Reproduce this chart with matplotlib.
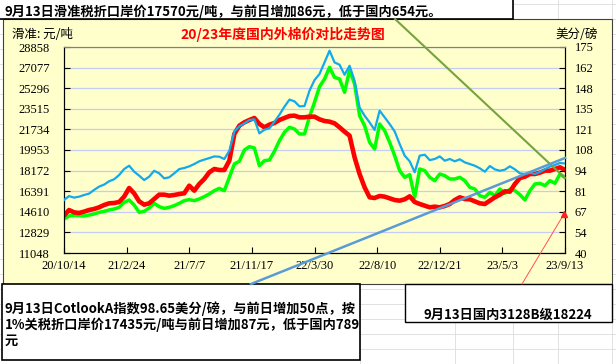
import matplotlib
matplotlib.use('Agg')
import matplotlib.pyplot as plt
from matplotlib.lines import Line2D
from matplotlib.patches import Rectangle
import pandas as pd

plt.rcParams['font.family'] = ['Noto Sans CJK SC', 'DejaVu Sans']

# domestic 3128B (yuan/ton, left axis)
domestic = [14276, 14766, 14564, 14506, 14622, 14766, 14852, 14996, 15198, 15342,
            15371, 15457, 15919, 16668, 16207, 15515, 15227, 15342, 15717, 16092,
            16092, 16005, 16063, 16149, 16207, 16870,
            16437, 17014, 17446, 18022, 18311, 18224, 18224, 19031, 21337, 22057,
            22345, 22547, 22720, 22201, 21913, 22144, 22288, 22547, 22720, 22893,
            22922, 22778, 22778, 22835,
            22835, 22605, 22461, 22403, 22259, 21913, 21538, 21193, 19319, 17878,
            16726, 15861, 15803, 15976, 15919, 15774, 15630, 15573, 15688, 15947,
            15457, 15285, 15140, 14996, 15054,
            14996, 15112, 15285, 15630, 15861, 15717, 15688, 15515, 15342, 15285,
            15573, 15861, 16092, 16380, 16351, 17014, 17533, 17648, 17878, 17878,
            17994, 18167, 18167, 18311, 18455, 18224]

# import price at sliding-scale duty (yuan/ton, left axis)
sliding = [13988, 14247, 14305, 14276, 14247, 14333, 14420, 14564, 14651, 14766,
           14852, 14996, 15429, 15630, 15198, 14564, 14651, 14939, 15342, 15054,
           14910, 14996, 15140, 15342, 15573, 15659,
           15573, 15717, 15919, 16149, 16437, 16639, 16437, 17590, 18743, 18974,
           19953, 20242, 20126, 18599, 19031, 19089, 19838, 20760, 21481, 21913,
           21769, 21337, 21337, 22835,
           24075, 25429, 26092, 27101, 26236, 26092, 24939, 26870, 25660, 22922,
           22057, 20616, 20040, 22201, 21625, 20616, 19463, 18167, 17590, 17821,
           15861, 18311, 18167, 17590, 17302,
           17878, 17734, 17446, 17446, 17590, 17302, 16726, 16581, 16005, 15861,
           16293, 16005, 16581, 16207, 16553, 16437, 16092, 15630, 16437, 17014,
           17071, 16870, 17302, 17071, 17878, 17570]

# Cotlook A index (US cents/lb, right axis)
cotlook = [74.7, 77.3, 76.3, 76.9, 78.0, 78.9, 81.3, 83.5, 84.8, 87.0,
           88.3, 91.1, 95.0, 97.2, 93.3, 90.7, 87.8, 90.0, 93.9, 92.2,
           88.9, 89.6, 92.2, 95.0, 95.7, 96.8,
           98.3, 100.1, 101.2, 102.2, 103.3, 103.1, 101.6, 107.0, 119.7, 123.0,
           125.0, 127.1, 127.6, 118.4, 120.8, 121.7, 126.0, 130.6, 135.9, 140.5,
           139.4, 136.1, 136.3, 146.4,
           153.3, 157.3, 164.9, 172.6, 164.9, 163.4, 156.8, 162.7, 152.9, 135.4,
           130.0, 125.6, 120.6, 133.3, 128.9, 124.5, 119.7, 111.4, 103.8, 100.1,
           92.9, 103.8, 104.4, 100.9, 101.6,
           103.3, 100.5, 101.6, 100.1, 101.4, 99.4, 98.3, 97.2, 95.5, 93.3,
           97.0, 94.8, 93.9, 94.6, 96.8, 94.8, 92.2, 91.8, 92.6, 91.8,
           93.1, 95.0, 96.6, 97.7, 99.0, 98.65]

dates = pd.date_range('2020-10-14', '2023-09-13', periods=len(domestic))

tick_dates = pd.to_datetime(['2020-10-14', '2021-02-24', '2021-07-07', '2021-11-17',
                             '2022-03-30', '2022-08-10', '2022-12-21', '2023-05-03',
                             '2023-09-13'])
tick_labels = ['20/10/14', '21/2/24', '21/7/7', '21/11/17', '22/3/30',
               '22/8/10', '22/12/21', '23/5/3', '23/9/13']
left_ticks = [11048, 12829, 14610, 16391, 18172, 19953, 21734, 23515, 25296, 27077, 28858]
right_ticks = [40, 53.5, 67, 80.5, 94, 107.5, 121, 134.5, 148, 161.5, 175]
right_labels = ['40', '54', '67', '81', '94', '108', '121', '135', '148', '162', '175']

W, H = 616, 364
fig = plt.figure(figsize=(W / 100, H / 100), dpi=100)
fig.patch.set_facecolor('white')


def fx(px):
    return px / W


def fy(py):
    return 1 - py / H


def box(x0, y0, x1, y1, face, lw=1.0, edge='black'):
    fig.add_artist(Rectangle((fx(x0), fy(y1)), fx(x1) - fx(x0), fy(y0) - fy(y1),
                             transform=fig.transFigure, facecolor=face,
                             edgecolor=edge, linewidth=lw, zorder=-2))


def fline(x0, y0, x1, y1, **kw):
    fig.add_artist(Line2D([fx(x0), fx(x1)], [fy(y0), fy(y1)],
                          transform=fig.transFigure, **kw))


# spreadsheet cell grid behind everything
for gy in range(4, H, 15):
    fline(0, gy, W, gy, color='#dcdcdc', lw=0.6, zorder=-3)
for gx in [360, 455, 513, 558, 612]:
    fline(gx, 0, gx, H, color='#dcdcdc', lw=0.6, zorder=-3)

# chart and text boxes
box(3, 19, 612, 284, '#ffffcc', lw=0.8, edge='#404040')
box(-2, -2, 513, 19, 'white', lw=1.2)
box(2, 284, 360, 360, 'white', lw=1.2)
box(405, 284, 612, 322, 'white', lw=1.0)

ax = fig.add_axes([fx(64), fy(253), fx(565) - fx(64), fy(47) - fy(253)])
ax.set_facecolor('#ffffcc')
ax.plot(dates, sliding, color='#00ff00', lw=2.5, zorder=3)
ax.plot(dates, domestic, color='#ff0000', lw=3.3, zorder=4)
ax.set_ylim(11048, 28858)
ax.set_xlim(tick_dates[0], tick_dates[-1])
ax.set_yticks(left_ticks)
ax.set_yticklabels([str(v) for v in left_ticks])
ax.set_xticks(tick_dates)
ax.set_xticklabels(tick_labels)
ax.grid(axis='y', color='#c6cdf2', lw=0.9)
ax.set_axisbelow(True)
ax.tick_params(axis='y', direction='in', length=4, pad=10, labelsize=9)
ax.tick_params(axis='x', direction='in', length=4, pad=5, labelsize=9)
for lab in ax.get_xticklabels() + ax.get_yticklabels():
    lab.set_family(['Liberation Serif', 'DejaVu Serif'])
ax.spines['top'].set_color('#808080')

ax2 = ax.twinx()
ax2.plot(dates, cotlook, color='#12aaea', lw=1.6, zorder=5)
ax2.set_ylim(40, 175)
ax2.set_yticks(right_ticks)
ax2.set_yticklabels(right_labels)
ax2.tick_params(axis='y', direction='in', length=4, pad=7, labelsize=9)
for lab in ax2.get_yticklabels():
    lab.set_family(['Liberation Serif', 'DejaVu Serif'])
ax2.spines['top'].set_color('#808080')

# texts
fig.text(fx(283), fy(34), '20/23年度国内外棉价对比走势图', color='#ff0000',
         fontsize=10, fontweight='bold', ha='center', va='center')
fig.text(fx(12), fy(34), '滑准: 元/吨', fontsize=9, ha='left', va='center')
fig.text(fx(598), fy(34), '美分/磅', fontsize=9, ha='right', va='center')
fig.text(fx(5), fy(12), '9月13日滑准税折口岸价17570元/吨，与前日增加86元，低于国内654元。',
         fontsize=9.5, fontweight='bold', ha='left', va='center')
fig.text(fx(5), fy(309), '9月13日CotlookA指数98.65美分/磅，与前日增加50点，按',
         fontsize=9.5, fontweight='bold', ha='left', va='center')
fig.text(fx(5), fy(325), '1%关税折口岸价17435元/吨与前日增加87元，低于国内789',
         fontsize=9.5, fontweight='bold', ha='left', va='center')
fig.text(fx(5), fy(341), '元', fontsize=9.5, fontweight='bold', ha='left', va='center')
fig.text(fx(508), fy(315), '9月13日国内3128B级18224', fontsize=9.5,
         fontweight='bold', ha='center', va='center')

# drawn shapes on the sheet
fline(395, 19, 565, 178, color='#77a33f', lw=1.5, zorder=10)
fline(251, 284, 565, 158, color='#5b9bd5', lw=1.8, zorder=10)
fline(522, 284, 564, 214, color='#ff5050', lw=0.7, zorder=10)
fig.add_artist(Line2D([fx(564)], [fy(214)], transform=fig.transFigure, marker='^',
                      markersize=4, color='#ff2020', zorder=11))

fig.savefig('out.png', dpi=100)
